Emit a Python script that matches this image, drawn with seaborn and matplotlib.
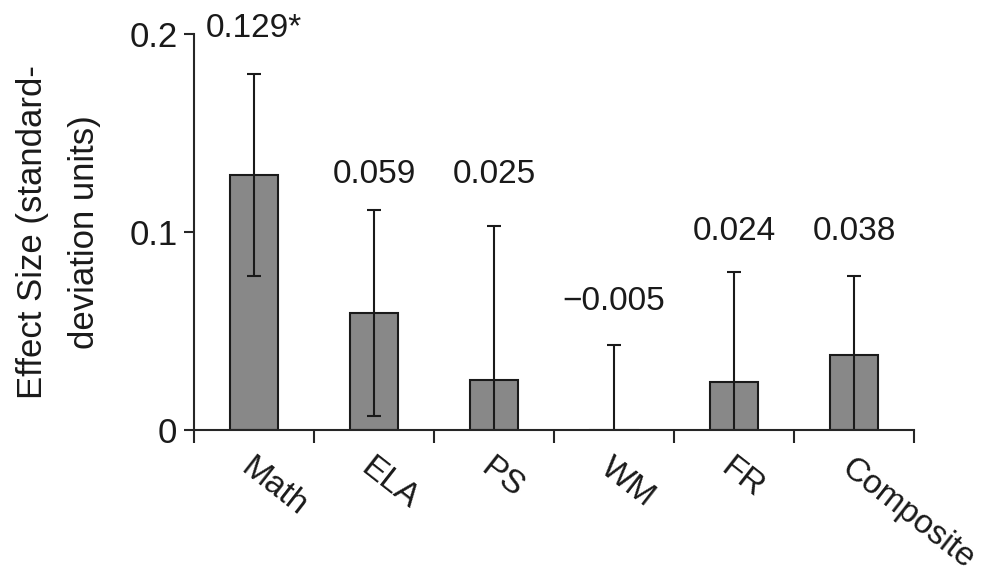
import numpy as np
import pandas as pd
import matplotlib
matplotlib.use('Agg')
import matplotlib.pyplot as plt
import seaborn as sns

categories = ['Math', 'ELA', 'PS', 'WM', 'FR', 'Composite']
effects = [0.129, 0.059, 0.025, -0.005, 0.024, 0.038]
errors = [0.051, 0.052, 0.078, 0.048, 0.056, 0.040]
labels = ['0.129*', '0.059', '0.025', '\u22120.005', '0.024', '0.038']
label_y = [0.203, 0.129, 0.129, 0.065, 0.100, 0.100]

sns.set_style('ticks')
plt.rcParams['font.family'] = ['Liberation Sans', 'DejaVu Sans']
plt.rcParams['axes.linewidth'] = 1.5

df = pd.DataFrame({'cat': categories, 'eff': effects})

fig = plt.figure(figsize=(9.87, 5.84), dpi=100)
ax = fig.add_axes([0.1966, 0.2637, 0.7295, 0.6781])

sns.barplot(data=df, x='cat', y='eff', ax=ax, color='#888888', saturation=1,
            width=0.4, edgecolor='#1a1a1a', linewidth=1.5, errorbar=None)
ax.errorbar(np.arange(len(categories)), effects, yerr=errors, fmt='none',
            ecolor='#1a1a1a', elinewidth=1.5, capsize=5, capthick=1.5)

for i, (lab, y) in enumerate(zip(labels, label_y)):
    ax.text(i, y, lab, ha='center', va='center', fontsize=24, color='#1a1a1a')

ax.set_xlim(-0.5, len(categories) - 0.5)
ax.set_ylim(0, 0.2)
ax.set_yticks([0, 0.1, 0.2])
ax.set_yticklabels(['0', '0.1', '0.2'])
ax.set_xticks(np.arange(len(categories) + 1) - 0.5)
ax.set_xticklabels([])
ax.set_xticks(np.arange(len(categories)), minor=True)
ax.set_xticklabels(categories, minor=True, rotation=-38, ha='left', va='top',
                   rotation_mode='anchor')
ax.tick_params(axis='x', which='minor', length=0, pad=16, labelsize=24,
               labelcolor='#1a1a1a')
ax.tick_params(axis='x', which='major', length=9, width=1.5, direction='out')
ax.tick_params(axis='y', length=7, width=1.5, direction='out', labelsize=25,
               pad=5, labelcolor='#1a1a1a')

ax.set_xlabel('')
ax.set_ylabel('Effect Size (standard-\ndeviation units)', fontsize=25,
              linespacing=1.75, labelpad=20, color='#1a1a1a')
sns.despine(ax=ax)

fig.savefig('out.png', dpi=100)
